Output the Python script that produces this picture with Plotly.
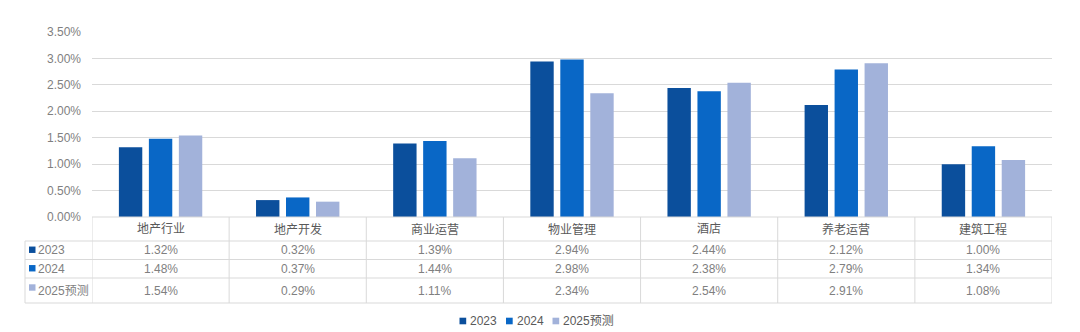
import plotly.graph_objects as go

categories = ["地产行业", "地产开发", "商业运营", "物业管理", "酒店", "养老运营", "建筑工程"]
series_names = ["2023", "2024", "2025预测"]
v2023 = [1.32, 0.32, 1.39, 2.94, 2.44, 2.12, 1.00]
v2024 = [1.48, 0.37, 1.44, 2.98, 2.38, 2.79, 1.34]
v2025 = [1.54, 0.29, 1.11, 2.34, 2.54, 2.91, 1.08]
colors = ["#0B4F9C", "#0967C6", "#A2B2DA"]
ytick_vals = [0, 0.5, 1.0, 1.5, 2.0, 2.5, 3.0, 3.5]

W, H = 1080, 332
ML, MR, MT, MB = 92, 28, 32, 115
PH = H - MT - MB
PW = W - ML - MR

def py(px):
    """pixel y (from top) -> paper y"""
    return (H - MB - px) / PH

def pxx(px):
    return (px - ML) / PW

FONT = "Liberation Sans, Arial, Noto Sans CJK SC, sans-serif"
GRID = "#D9D9D9"
TXT = "#7F7F7F"

fig = go.Figure()
all_vals = [v2023, v2024, v2025]
for name, vals, c in zip(series_names, all_vals, colors):
    fig.add_trace(go.Bar(x=categories, y=vals, name=name, marker=dict(color=c, line=dict(width=0)),
                         showlegend=False))

shapes = []
annotations = []

# table geometry (pixel rows)
row_tops = [217, 241, 259.5, 278, 303]
left_px = 25

# horizontal lines
for i, yp in enumerate(row_tops):
    x0 = pxx(ML) if i == 0 else pxx(left_px)
    shapes.append(dict(type="line", xref="paper", yref="paper", x0=x0, x1=1, y0=py(yp), y1=py(yp),
                       line=dict(color=GRID, width=1)))
# vertical lines at category boundaries
for k in range(len(categories) + 1):
    shapes.append(dict(type="line", xref="x", yref="paper", x0=k - 0.5, x1=k - 0.5,
                       y0=py(row_tops[0]), y1=py(row_tops[-1]), line=dict(color=GRID, width=1)))
shapes.append(dict(type="line", xref="paper", yref="paper", x0=pxx(left_px), x1=pxx(left_px),
                   y0=py(row_tops[1]), y1=py(row_tops[-1]), line=dict(color=GRID, width=1)))

# header text
for k, cat in enumerate(categories):
    annotations.append(dict(x=cat, xref="x", y=py((row_tops[0] + row_tops[1]) / 2), yref="paper",
                            text=cat, showarrow=False, font=dict(family=FONT, size=12, color="#595959"),
                            xanchor="center", yanchor="middle"))
# value rows
for r, (name, vals, c) in enumerate(zip(series_names, all_vals, colors)):
    yc = (row_tops[r + 1] + row_tops[r + 2]) / 2
    for k, cat in enumerate(categories):
        annotations.append(dict(x=cat, xref="x", y=py(yc), yref="paper", text=f"{vals[k]:.2f}%",
                                showarrow=False, font=dict(family=FONT, size=12, color=TXT),
                                xanchor="center", yanchor="middle"))
    sq_y = yc - 0.5 if r < 2 else yc - 3
    shapes.append(dict(type="rect", xref="paper", yref="paper", x0=pxx(29), x1=pxx(35.5),
                       y0=py(sq_y + 3.2), y1=py(sq_y - 3.2), fillcolor=c, line=dict(width=0)))
    annotations.append(dict(x=pxx(36), xref="paper", y=py(yc), yref="paper", text=name,
                            showarrow=False, font=dict(family=FONT, size=12, color=TXT),
                            xanchor="left", yanchor="middle"))

# legend (manual)
legend_sq_x = [459.5, 506, 552.5]
legend_y = 321
for name, c, sx in zip(series_names, colors, legend_sq_x):
    shapes.append(dict(type="rect", xref="paper", yref="paper", x0=pxx(sx), x1=pxx(sx + 6.7),
                       y0=py(legend_y + 3.3), y1=py(legend_y - 3.3), fillcolor=c, line=dict(width=0)))
    annotations.append(dict(x=pxx(sx + 8.5), xref="paper", y=py(legend_y), yref="paper", text=name,
                            showarrow=False, font=dict(family=FONT, size=12, color="#595959"),
                            xanchor="left", yanchor="middle"))

fig.update_layout(
    width=W, height=H,
    margin=dict(l=ML, r=MR, t=MT, b=MB, pad=0),
    paper_bgcolor="white", plot_bgcolor="white",
    barmode="group", bargap=0.344, bargroupgap=0.22,
    font=dict(family=FONT, size=12, color=TXT),
    xaxis=dict(showticklabels=False, showgrid=False, zeroline=False, showline=False, ticks="",
               range=[-0.5, len(categories) - 0.5]),
    yaxis=dict(range=[0, 3.5], tickvals=ytick_vals, ticktext=[f"{v:.2f}%" for v in ytick_vals],
               showgrid=True, gridcolor=GRID, gridwidth=1, zeroline=False, showline=False,
               ticks="", ticklabelstandoff=10, tickfont=dict(family=FONT, size=12, color=TXT)),
    shapes=shapes, annotations=annotations,
)

fig.write_html("out.html")
